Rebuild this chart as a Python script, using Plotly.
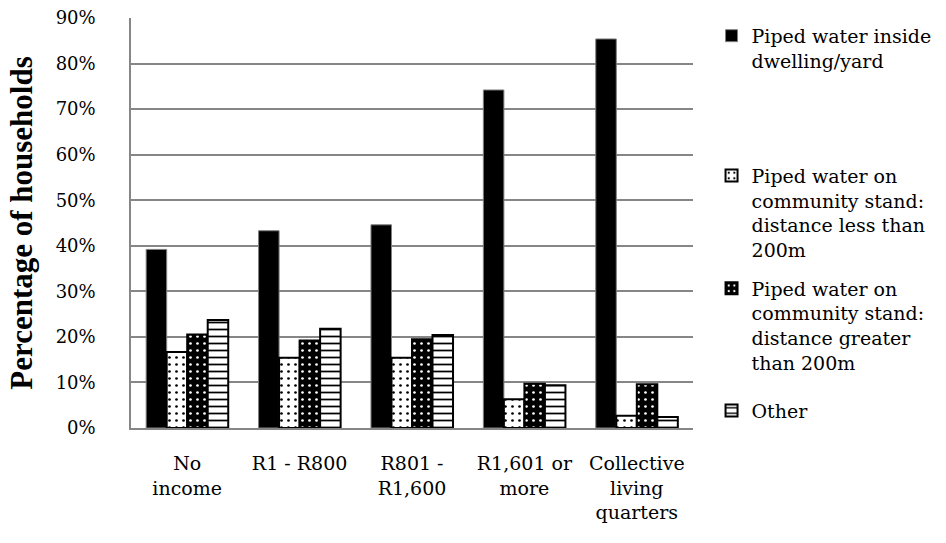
import plotly.graph_objects as go

# Household water source by income group (share of households, %)
categories = ["No<br>income", "R1 - R800", "R801 -<br>R1,600", "R1,601 or<br>more",
              "Collective<br>living<br>quarters"]
inside_dwelling = [39.2, 43.3, 44.6, 74.2, 85.4]
stand_less_200m = [16.7, 15.4, 15.4, 6.3, 2.7]
stand_more_200m = [20.5, 19.2, 19.5, 9.7, 9.6]
other_source = [23.7, 21.8, 20.4, 9.4, 2.4]

series_names = [
    "Piped water inside<br>dwelling/yard",
    "Piped water on<br>community stand:<br>distance less than<br>200m",
    "Piped water on<br>community stand:<br>distance greater<br>than 200m",
    "Other",
]
y_ticks = [0, 10, 20, 30, 40, 50, 60, 70, 80, 90]
y_tick_text = [f"{v}%" for v in y_ticks]

SERIF = "DejaVu Serif"
TITLE_FONT = "Times New Roman"

fig = go.Figure()

fig.add_trace(go.Bar(
    x=categories, y=inside_dwelling, name=series_names[0], legend="legend",
    marker=dict(color="black", line=dict(color="#7f7f7f", width=1)),
))
fig.add_trace(go.Bar(
    x=categories, y=stand_less_200m, name=series_names[1], legend="legend2",
    marker=dict(color="white", line=dict(color="black", width=2),
                pattern=dict(shape=".", fgcolor="black", bgcolor="white",
                             size=7, solidity=0.12, fillmode="replace")),
))
fig.add_trace(go.Bar(
    x=categories, y=stand_more_200m, name=series_names[2], legend="legend3",
    marker=dict(color="black", line=dict(color="black", width=2),
                pattern=dict(shape=".", fgcolor="white", bgcolor="black",
                             size=7, solidity=0.12, fillmode="replace")),
))
fig.add_trace(go.Bar(
    x=categories, y=other_source, name=series_names[3], legend="legend4",
    marker=dict(color="white", line=dict(color="black", width=2),
                pattern=dict(shape="-", fgcolor="black", bgcolor="white",
                             size=7, solidity=0.25, fillmode="replace")),
))

legend_common = dict(
    font=dict(family=SERIF, size=19, color="black"),
    bgcolor="rgba(0,0,0,0)", valign="top", itemwidth=30,
    xanchor="left", yanchor="top", x=1.033, yref="container",
    tracegroupgap=0,
)

fig.update_layout(
    width=946, height=543,
    margin=dict(l=131, r=253, t=18, b=115, autoexpand=False),
    paper_bgcolor="white", plot_bgcolor="white",
    font=dict(family=SERIF, size=19, color="black"),
    barmode="group", bargap=0.27, bargroupgap=0,
    showlegend=True,
    legend=dict(**legend_common, y=0.969),
    legend2=dict(**legend_common, y=0.7115),
    legend3=dict(**legend_common, y=0.5038),
    legend4=dict(**legend_common, y=0.2787),
    xaxis=dict(
        showgrid=False, showline=True, linecolor="#868686", linewidth=2,
        ticks="", tickfont=dict(family=SERIF, size=19, color="black"),
        ticklabelstandoff=17,
    ),
    yaxis=dict(
        range=[0, 90], tickvals=y_ticks, ticktext=y_tick_text,
        showgrid=True, gridcolor="#868686", gridwidth=1.5,
        showline=True, linecolor="#868686", linewidth=1.5,
        ticks="", zeroline=False, ticklabelstandoff=30,
        tickfont=dict(family=SERIF, size=18, color="black"),
        title=dict(text="<b>Percentage of households</b>",
                   font=dict(family=TITLE_FONT, size=31, color="black"),
                   standoff=14),
    ),
)

fig.write_html("out.html")
